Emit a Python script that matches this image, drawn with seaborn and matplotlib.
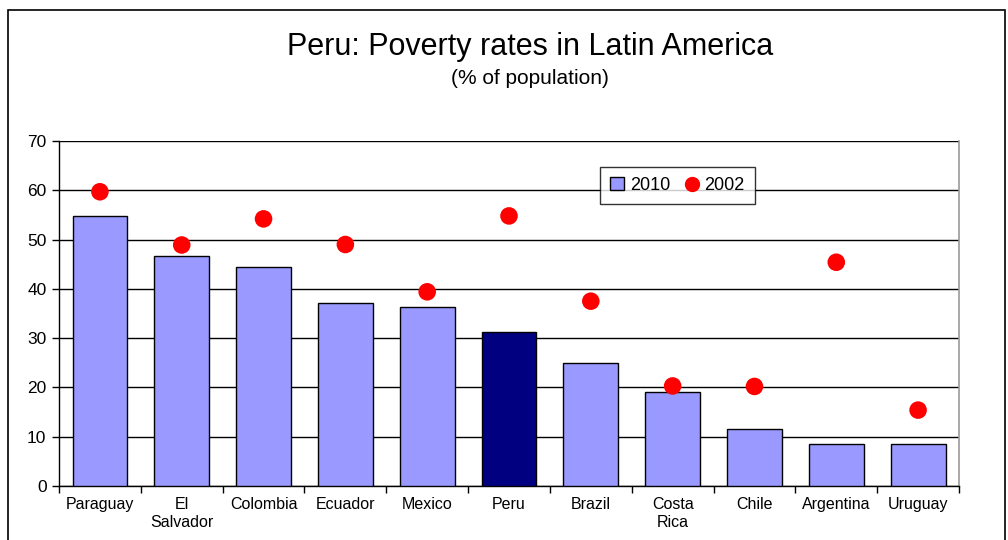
import matplotlib
matplotlib.use("Agg")
import matplotlib.pyplot as plt
import seaborn as sns
import pandas as pd
import numpy as np
from matplotlib.patches import Rectangle, Patch
from matplotlib.lines import Line2D

countries = ["Paraguay", "El\nSalvador", "Colombia", "Ecuador", "Mexico", "Peru",
             "Brazil", "Costa\nRica", "Chile", "Argentina", "Uruguay"]
rate_2010 = [54.8, 46.6, 44.4, 37.1, 36.3, 31.3, 24.9, 19.0, 11.5, 8.6, 8.6]
rate_2002 = [59.7, 48.9, 54.2, 49.0, 39.4, 54.8, 37.5, 20.3, 20.2, 45.4, 15.4]
highlight = "Peru"

sns.set_theme(style="white")
plt.rcParams['font.family'] = ['Liberation Sans', 'DejaVu Sans']
plt.rcParams['text.color'] = 'black'
plt.rcParams['xtick.color'] = 'black'
plt.rcParams['ytick.color'] = 'black'
plt.rcParams['axes.labelcolor'] = 'black'

df = pd.DataFrame({"country": countries, "y2010": rate_2010, "y2002": rate_2002})
palette = {c: ("#000080" if c == highlight else "#9999FF") for c in countries}

fig = plt.figure(figsize=(10.08, 5.4), dpi=100)
ax = fig.add_axes([59/1008, 1 - 486/540, 900/1008, 345/540])

sns.barplot(data=df, x="country", y="y2010", hue="country", palette=palette,
            legend=False, width=0.67, edgecolor="black", linewidth=1.0, ax=ax,
            saturation=1, zorder=3)
sns.scatterplot(data=df, x="country", y="y2002", color="#FF0000", s=160,
                edgecolor="none", ax=ax, zorder=4, legend=False)

ax.set_ylim(0, 70)
ax.set_xlim(-0.5, len(countries) - 0.5)
ax.set_yticks(np.arange(0, 71, 10))
ax.yaxis.grid(True, color="black", linewidth=1.0)
ax.set_axisbelow(True)
ax.set_xlabel("")
ax.set_ylabel("")
ax.tick_params(axis="y", labelsize=12.5, length=5, width=1, color="black",
               direction="out", left=True, pad=4)
ax.tick_params(axis="x", which="major", length=0, labelsize=11.5, pad=8)
ax.set_xticks(np.arange(-0.5, len(countries), 1), minor=True)
ax.tick_params(axis="x", which="minor", length=5, width=1, color="black",
               direction="out", bottom=True)
for lab in ax.get_xticklabels():
    lab.set_linespacing(1.2)

for s in ["left", "bottom"]:
    ax.spines[s].set_color("black")
    ax.spines[s].set_linewidth(1.0)
ax.spines["top"].set_visible(False)
ax.spines["right"].set_color("#999999")
ax.spines["right"].set_linewidth(1.2)

handles = [Patch(facecolor="#9999FF", edgecolor="black", label="2010"),
           Line2D([], [], marker="o", linestyle="none", color="#FF0000",
                  markersize=10, label="2002")]
leg = ax.legend(handles=handles, ncol=2, loc="upper left",
                bbox_to_anchor=((600 - 59) / 900, (486 - 167) / 345),
                borderaxespad=0,
                frameon=True, fancybox=False, edgecolor="black",
                fontsize=13, handlelength=0.8, handletextpad=0.3,
                columnspacing=0.8, borderpad=0.55)
leg.get_frame().set_linewidth(1.0)

fig.text(530/1008, 1 - 47/540, "Peru: Poverty rates in Latin America",
         ha="center", va="center", fontsize=22, color="black")
fig.text(530/1008, 1 - 79/540, "(% of population)",
         ha="center", va="center", fontsize=15, color="black")

fig.patches.append(Rectangle((8/1008, -0.05), 1 - 11/1008, 1.05 - 10/540,
                             transform=fig.transFigure, fill=False,
                             edgecolor="black", linewidth=1.2))

fig.savefig("out.png", dpi=100)
